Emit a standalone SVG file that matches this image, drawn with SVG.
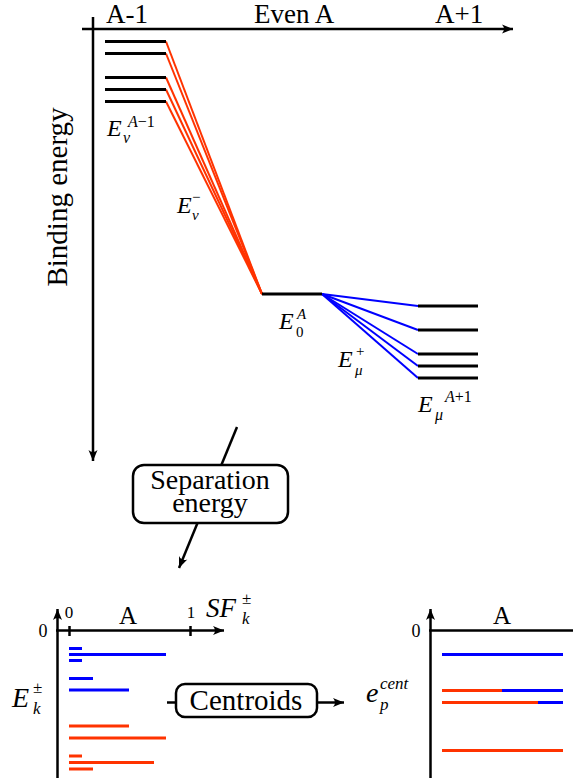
<svg xmlns="http://www.w3.org/2000/svg" width="573" height="778" viewBox="0 0 573 778">
<defs>
<marker id="arr" viewBox="-12 -6 14 12" markerWidth="14" markerHeight="12" refX="0" refY="0" orient="auto" markerUnits="userSpaceOnUse">
<path d="M0,0 L-11,-4.5 Q-7,0 -11,4.5 Z" fill="#000"/>
</marker>
</defs>
<style>
text{font-family:"Liberation Serif","Times New Roman",serif;fill:#000}
.hd{font-size:27px}
.big{font-size:29px}
.mi{font-style:italic}
.ax{stroke:#000;stroke-width:2.5;fill:none}
.lvl{stroke:#000;stroke-width:3;fill:none}
.red{stroke:#ff3300;stroke-width:2;fill:none}
.blue{stroke:#0000ff;stroke-width:2;fill:none}
.rb{stroke:#ff3300;stroke-width:3;fill:none}
.bb{stroke:#0000ff;stroke-width:3;fill:none}
.box{fill:#fff;stroke:#000;stroke-width:2.5}
.con{stroke:#000;stroke-width:2.5;fill:none}
</style>

<g id="top-axes">
<line class="ax" x1="82" y1="29" x2="513" y2="29" marker-end="url(#arr)"/>
<line class="ax" x1="93" y1="17" x2="93" y2="461" marker-end="url(#arr)"/>
<text class="hd" x="106" y="23">A-1</text>
<text class="hd" x="254" y="23">Even A</text>
<text class="hd" x="435" y="23">A+1</text>
<text class="big" transform="translate(67,197) rotate(-90)" text-anchor="middle">Binding energy</text>
</g>

<g id="connectors">
<g id="removal-lines">
<line class="red" x1="166" y1="41.5" x2="262" y2="294"/>
<line class="red" x1="166" y1="53.5" x2="262" y2="294"/>
<line class="red" x1="166" y1="77.5" x2="262" y2="294"/>
<line class="red" x1="166" y1="89.5" x2="262" y2="294"/>
<line class="red" x1="166" y1="101.5" x2="262" y2="294"/>
</g>
<g id="addition-lines">
<line class="blue" x1="322" y1="294" x2="418" y2="306"/>
<line class="blue" x1="322" y1="294" x2="418" y2="330"/>
<line class="blue" x1="322" y1="294" x2="418" y2="354"/>
<line class="blue" x1="322" y1="294" x2="418" y2="366"/>
<line class="blue" x1="322" y1="294" x2="418" y2="378"/>
</g>
<line class="con" x1="237" y1="427" x2="179" y2="568" marker-end="url(#arr)"/>
<line class="con" x1="167" y1="702.5" x2="344" y2="702.5" marker-end="url(#arr)"/>
</g>

<g id="levels-A-1">
<line class="lvl" x1="105" y1="41.5" x2="166" y2="41.5"/>
<line class="lvl" x1="105" y1="53.5" x2="166" y2="53.5"/>
<line class="lvl" x1="105" y1="77.5" x2="166" y2="77.5"/>
<line class="lvl" x1="105" y1="89.5" x2="166" y2="89.5"/>
<line class="lvl" x1="105" y1="101.5" x2="166" y2="101.5"/>
<text class="mi" x="107" y="136" font-size="24">E</text>
<text class="mi" x="123" y="143" font-size="16">ν</text>
<text x="128" y="127" font-size="16"><tspan class="mi">A</tspan>−1</text>
</g>

<g id="label-removal">
<text class="mi" x="177" y="213" font-size="24">E</text>
<text x="192" y="202" font-size="15">−</text>
<text class="mi" x="192" y="220" font-size="15">ν</text>
</g>

<g id="level-E0">
<line class="lvl" x1="262" y1="294" x2="322" y2="294"/>
<text class="mi" x="279" y="329" font-size="24">E</text>
<text class="mi" x="297" y="319" font-size="15">A</text>
<text x="296" y="337" font-size="15">0</text>
</g>

<g id="label-addition">
<text class="mi" x="338" y="367" font-size="24">E</text>
<text x="356" y="356" font-size="15">+</text>
<text class="mi" x="355" y="375" font-size="15">μ</text>
</g>

<g id="levels-A+1">
<line class="lvl" x1="418" y1="306" x2="478" y2="306"/>
<line class="lvl" x1="418" y1="330" x2="478" y2="330"/>
<line class="lvl" x1="418" y1="354" x2="478" y2="354"/>
<line class="lvl" x1="418" y1="366" x2="478" y2="366"/>
<line class="lvl" x1="418" y1="378" x2="478" y2="378"/>
<text class="mi" x="418" y="412" font-size="24">E</text>
<text x="445" y="402" font-size="16"><tspan class="mi">A</tspan>+1</text>
<text class="mi" x="435" y="420" font-size="16">μ</text>
</g>

<g id="separation-energy">
<rect class="box" x="133" y="465" width="155" height="58" rx="11"/>
<text x="210" y="489" font-size="28" text-anchor="middle">Separation</text>
<text x="210" y="512" font-size="28" text-anchor="middle">energy</text>
</g>

<g id="centroids">
<rect class="box" x="176" y="684" width="141" height="33" rx="9"/>
<text class="big" x="246" y="710" text-anchor="middle">Centroids</text>
</g>

<g id="sf-plot">
<line class="ax" x1="57.5" y1="778" x2="57.5" y2="609" marker-end="url(#arr)"/>
<line class="ax" x1="56" y1="630.5" x2="224" y2="630.5" marker-end="url(#arr)"/>
<line class="ax" x1="69.5" y1="626" x2="69.5" y2="636"/>
<line class="ax" x1="190.5" y1="626" x2="190.5" y2="636"/>
<text x="69" y="618" font-size="17" text-anchor="middle">0</text>
<text x="191" y="618" font-size="17" text-anchor="middle">1</text>
<text x="43" y="637" font-size="18" text-anchor="middle">0</text>
<text x="128" y="624" font-size="25" text-anchor="middle">A</text>
<text class="mi" x="206" y="617" font-size="27">SF</text>
<text x="242" y="604" font-size="17">±</text>
<text class="mi" x="242" y="624" font-size="17">k</text>
<text class="mi" x="12" y="707" font-size="28">E</text>
<text x="33" y="693" font-size="17">±</text>
<text class="mi" x="33" y="714" font-size="17">k</text>
<line class="bb" x1="69" y1="648.5" x2="82" y2="648.5"/>
<line class="bb" x1="69" y1="654.5" x2="166" y2="654.5"/>
<line class="bb" x1="69" y1="660.5" x2="82" y2="660.5"/>
<line class="bb" x1="69" y1="678.5" x2="93" y2="678.5"/>
<line class="bb" x1="69" y1="690" x2="129" y2="690"/>
<line class="rb" x1="69" y1="726" x2="129" y2="726"/>
<line class="rb" x1="69" y1="738" x2="166" y2="738"/>
<line class="rb" x1="69" y1="756" x2="82" y2="756"/>
<line class="rb" x1="69" y1="762.5" x2="154" y2="762.5"/>
<line class="rb" x1="69" y1="769" x2="93" y2="769"/>
</g>

<g id="centroid-plot">
<line class="ax" x1="430.5" y1="778" x2="430.5" y2="609" marker-end="url(#arr)"/>
<line class="ax" x1="429" y1="630.5" x2="573" y2="630.5"/>
<text x="416" y="637" font-size="18" text-anchor="middle">0</text>
<text x="502" y="624" font-size="25" text-anchor="middle">A</text>
<text class="mi" x="366" y="702" font-size="28">e</text>
<text class="mi" x="380" y="689" font-size="17">cent</text>
<text class="mi" x="380" y="710" font-size="17">p</text>
<line class="bb" x1="442" y1="654.5" x2="563" y2="654.5"/>
<line class="rb" x1="442" y1="690.5" x2="502" y2="690.5"/>
<line class="bb" x1="502" y1="690.5" x2="563" y2="690.5"/>
<line class="rb" x1="442" y1="702.5" x2="538" y2="702.5"/>
<line class="bb" x1="538" y1="702.5" x2="563" y2="702.5"/>
<line class="rb" x1="442" y1="750.5" x2="563" y2="750.5"/>
</g>
</svg>
